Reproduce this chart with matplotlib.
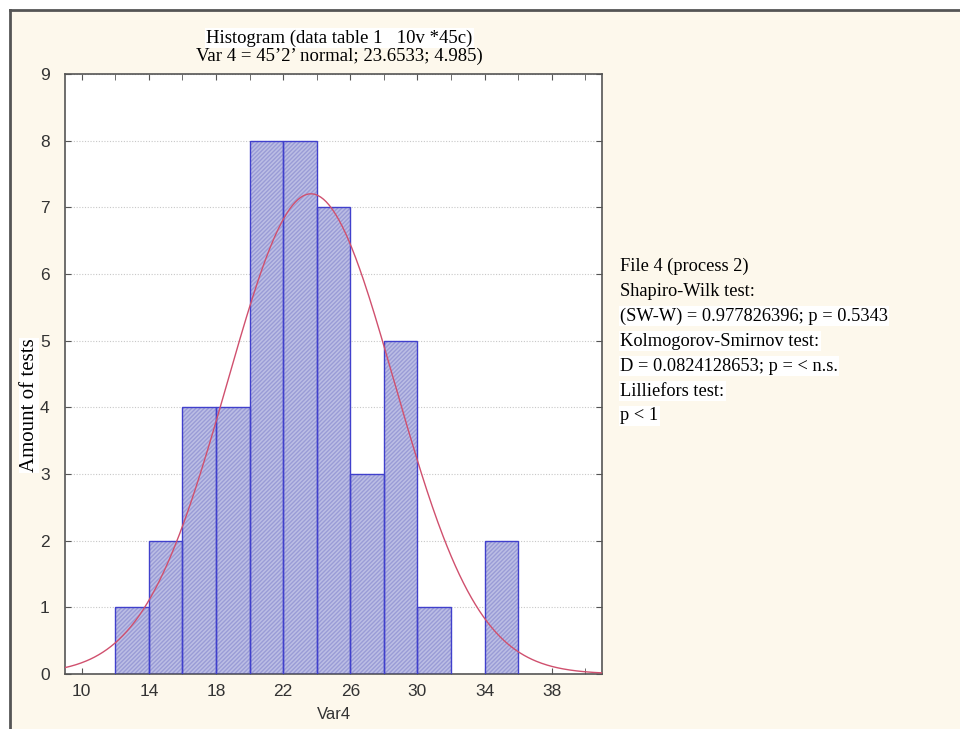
import matplotlib
matplotlib.use("Agg")
import matplotlib.pyplot as plt
import numpy as np
from matplotlib.patches import Rectangle

# histogram bins (left edge, width 2) and counts
bin_left = [12, 14, 16, 18, 20, 22, 24, 26, 28, 30, 34]
counts = [1, 2, 4, 4, 8, 8, 7, 3, 5, 1, 2]
bin_width = 2

# fitted normal: n, mean, sd
n_obs = 45
mean = 23.6533
sd = 4.985

title_lines = ["Histogram (data table 1   10v *45c)",
               "Var 4 = 45\u20192\u2019 normal; 23.6533; 4.985)"]
stats_lines = [
    "File 4 (process 2)",
    "Shapiro-Wilk test:",
    "(SW-W) = 0.977826396; p = 0.5343",
    "Kolmogorov-Smirnov test:",
    "D = 0.0824128653; p = < n.s.",
    "Lilliefors test:",
    "p < 1",
]
x_labels = [10, 14, 18, 22, 26, 30, 34, 38]
y_ticks = list(range(0, 10))

SERIF = ["Liberation Serif", "DejaVu Serif"]
SANS = ["Liberation Sans", "DejaVu Sans"]
CREAM = "#fdf8ec"

fig = plt.figure(figsize=(9.6, 7.29), dpi=100, facecolor="white")

# cream panel with a dark frame on top/left
fig.patches.append(Rectangle((10 / 960, 0), 1, 1 - 10 / 729, transform=fig.transFigure,
                             facecolor=CREAM, edgecolor="none", zorder=-5))
fig.add_artist(plt.Line2D([10 / 960, 10 / 960], [0, 1 - 10 / 729], transform=fig.transFigure,
                          color="#555555", lw=2, zorder=-4))
fig.add_artist(plt.Line2D([10 / 960, 1], [1 - 10 / 729, 1 - 10 / 729], transform=fig.transFigure,
                          color="#555555", lw=2, zorder=-4))

ax = fig.add_axes([65 / 960, 1 - 674 / 729, (602 - 65) / 960, (674 - 74) / 729])
ax.set_facecolor("white")

# bars: filled with fine hatching, then crisp blue outline
ax.bar(bin_left, counts, width=bin_width, align="edge", color="#bcbee4",
       edgecolor="#9a9cd6", hatch="////////", linewidth=0, zorder=2)
ax.bar(bin_left, counts, width=bin_width, align="edge", fill=False,
       edgecolor="#4040cc", linewidth=1.0, zorder=3)

xs = np.linspace(9, 41, 400)
pdf = np.exp(-0.5 * ((xs - mean) / sd) ** 2) / (sd * np.sqrt(2 * np.pi))
ax.plot(xs, n_obs * bin_width * pdf, color="#d0506e", lw=1.0, zorder=4)

ax.set_xlim(9, 41)
ax.set_ylim(0, 9)
ax.set_xticks(x_labels)
ax.set_xticks(np.arange(12, 42, 4), minor=True)
ax.set_yticks(y_ticks)
ax.tick_params(which="both", direction="in", top=True, right=True, length=4,
               color="#555555", labelsize=12.5, labelcolor="#333333")
ax.tick_params(axis="x", pad=7)
ax.tick_params(axis="y", pad=11)
for lab in ax.get_xticklabels() + ax.get_yticklabels():
    lab.set_family(SANS)
ax.yaxis.grid(True, linestyle=(0, (1, 1.5)), color="#c8c8c8", lw=0.8, zorder=1)
for sp in ax.spines.values():
    sp.set_color("#555555")
    sp.set_linewidth(1.2)

ax.set_xlabel("Var4", family=SANS, fontsize=12, color="#333333", labelpad=6)
fig.text(29 / 960, 1 - 405 / 729, "Amount of tests", rotation=90, family=SERIF,
         fontsize=15, ha="center", va="center", zorder=-1,
         bbox=dict(facecolor="white", edgecolor="none", pad=0.5))

fig.text(339 / 960, 1 - 38 / 729, title_lines[0], family=SERIF, fontsize=13.5,
         ha="center", va="center",
         bbox=dict(facecolor="white", edgecolor="none", pad=1))
fig.text(339 / 960, 1 - 56 / 729, title_lines[1], family=SERIF, fontsize=13.5,
         ha="center", va="center")

for i, line in enumerate(stats_lines):
    fig.text(620 / 960, 1 - (266 + i * 25) / 729, line, family=SERIF, fontsize=13.2,
             ha="left", va="center",
             bbox=dict(facecolor="white", edgecolor="none", pad=1) if i >= 2 else None)

fig.savefig("out.png", dpi=100, facecolor=fig.get_facecolor())
